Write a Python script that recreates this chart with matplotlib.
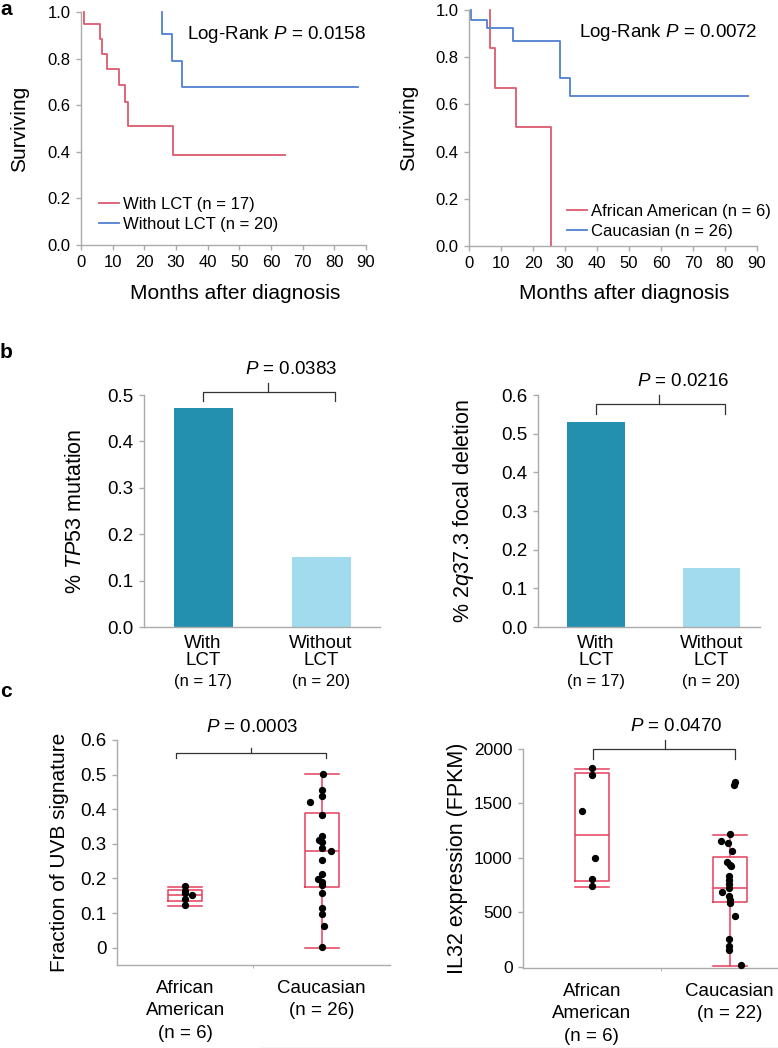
import numpy as np
import matplotlib.pyplot as plt
from matplotlib.lines import Line2D

plt.rcParams['font.family'] = ['Liberation Sans', 'DejaVu Sans']
plt.rcParams['mathtext.fontset'] = 'custom'
plt.rcParams['mathtext.it'] = 'Liberation Sans:italic'
plt.rcParams['mathtext.rm'] = 'Liberation Sans'

# ---- data ----
# a: Kaplan-Meier curves (event times in months, survival after each step)
lct_t = [1.0, 1.0, 6.0, 6.6, 8.3, 12.1, 13.8, 14.8, 29.1, 64.3]
lct_s = [1.0, 0.947, 0.883, 0.820, 0.757, 0.688, 0.612, 0.511, 0.385, 0.385]
nolct_t = [25.6, 25.6, 28.8, 31.9, 87.5]
nolct_s = [1.0, 0.904, 0.790, 0.678, 0.678]
aa_t = [6.6, 6.6, 8.2, 14.8, 25.5]
aa_s = [1.0, 0.837, 0.670, 0.504, 0.0]
cau_t = [0.7, 0.7, 5.6, 13.6, 28.5, 31.7, 87.3]
cau_s = [1.0, 0.959, 0.922, 0.870, 0.713, 0.634, 0.634]
km_xticks = [0, 10, 20, 30, 40, 50, 60, 70, 80, 90]
km_yticks = [0.0, 0.2, 0.4, 0.6, 0.8, 1.0]
km_yticklabels = ['0.0', '0.2', '0.4', '0.6', '0.8', '1.0']

# b: bar charts
bar_cats = ['With\nLCT', 'Without\nLCT']
bar_n = ['(n = 17)', '(n = 20)']
tp53 = [0.472, 0.151]
del2q = [0.530, 0.153]

# c: box plots
box_cats_uvb = ['African\nAmerican\n(n = 6)', 'Caucasian\n(n = 26)']
box_cats_il32 = ['African\nAmerican\n(n = 6)', 'Caucasian\n(n = 22)']
uvb_aa = [0.179, 0.165, 0.158, 0.153, 0.140, 0.124]
uvb_aa_jit = [0, 0, 0, 0.05, 0, 0]
uvb_cau = [0.501, 0.456, 0.437, 0.422, 0.382, 0.324, 0.310, 0.305, 0.288, 0.280,
           0.254, 0.214, 0.197, 0.189, 0.182, 0.158, 0.115, 0.096, 0.062, 0.003]
uvb_cau_jit = [0.01, 0, 0, -0.085, 0, 0, -0.02, 0, 0, 0.07,
               0, 0, -0.03, 0, 0, 0, 0, 0, 0.015, 0]
uvb_box = [dict(whislo=0.120, q1=0.134, med=0.151, q3=0.168, whishi=0.176, fliers=[]),
           dict(whislo=0.0, q1=0.176, med=0.280, q3=0.388, whishi=0.501, fliers=[])]
il32_aa = [1826, 1765, 1428, 1000, 807, 746]
il32_aa_jit = [0, 0, -0.07, 0.025, 0, 0]
il32_cau = [1694, 1672, 1223, 1159, 1138, 1061, 966, 939, 924, 832, 801,
            765, 725, 685, 648, 618, 587, 471, 257, 190, 159, 21]
il32_cau_jit = [0.036, 0.029, 0.005, -0.06, -0.01, 0.017, -0.02, 0.005, 0.01, -0.005, -0.005,
                -0.005, -0.005, -0.056, -0.005, 0, 0.005, 0.041, -0.005, -0.005, -0.005, 0.082]
il32_box = [dict(whislo=734, q1=786, med=1214, q3=1777, whishi=1820, fliers=[]),
            dict(whislo=10, q1=596, med=722, q3=1009, whishi=1214, fliers=[])]

RED = '#dc5a6e'
BLUE = '#4f80d0'
DARK = '#2390b0'
LIGHT = '#a3dbee'
BOXRED = '#e6405c'
GRAY = '#ababab'

W, H = 778, 1048
fig = plt.figure(figsize=(W / 100, H / 100), dpi=100)


def add_ax(l, t, r, b, ts=12):
    ax = fig.add_axes([l / W, 1 - b / H, (r - l) / W, (b - t) / H])
    ax.rect = (l, t, r, b)
    for s in ['top', 'right']:
        ax.spines[s].set_visible(False)
    for s in ['left', 'bottom']:
        ax.spines[s].set_color(GRAY)
        ax.spines[s].set_linewidth(1)
    ax.tick_params(color=GRAY, length=3.5, width=1, labelsize=ts, pad=4)
    return ax


def ylab(ax, text, x_px, size=15):
    l, t, r, b = ax.rect
    ax.set_ylabel(text, fontsize=size)
    ax.yaxis.set_label_coords((x_px - l) / (r - l), 0.5)


def bracket(ax, x0, x1, xm, y, ytip, ytop, label, tx, ty):
    kw = dict(color='#333333', lw=0.9, clip_on=False)
    ax.plot([x0, x0, x1, x1], [ytip, y, y, ytip], **kw)
    ax.plot([xm, xm], [y, ytop], **kw)
    ax.text(tx, ty, label, ha='center', va='center', fontsize=13.5)


# ---- a ----
for rect, curves, ptxt, leg_anchor in [
        ((81, 12, 366, 245), [(lct_t, lct_s, RED, 'With LCT (n = 17)'),
                              (nolct_t, nolct_s, BLUE, 'Without LCT (n = 20)')],
         '0.0158', (0.035, 0.02)),
        ((469, 10, 757, 246), [(aa_t, aa_s, RED, 'African American (n = 6)'),
                               (cau_t, cau_s, BLUE, 'Caucasian (n = 26)')],
         '0.0072', (0.31, -0.005))]:
    ax = add_ax(*rect)
    for t, s, c, lab in curves:
        ax.step(t, s, where='post', color=c, lw=1.3, label=lab, clip_on=False)
    ax.set_xlim(0, 90)
    ax.set_ylim(0, 1.0)
    ax.set_xticks(km_xticks)
    ax.set_yticks(km_yticks, km_yticklabels)
    ax.legend(loc='lower left', bbox_to_anchor=leg_anchor, frameon=False, fontsize=12,
              handlelength=1.2, handletextpad=0.25, labelspacing=0.3, borderpad=0)
    ax.text(1.0, 0.905, 'Log-Rank $\\it{P}$ = ' + ptxt, transform=ax.transAxes,
            ha='right', va='center', fontsize=13.5)
    ax.set_xlabel('Months after diagnosis', fontsize=15)
    l, t, r, b = rect
    ax.xaxis.set_label_coords(0.54, (b - 284) / (b - t))
    ylab(ax, 'Surviving', 29 if l < 200 else 418)

# ---- b ----
for rect, vals, ylim, yt, ylabtxt, ylx, br in [
        ((144, 395, 380, 627), tp53, 0.5, [0, 0.1, 0.2, 0.3, 0.4, 0.5],
         '% $\\it{TP53}$ mutation', 86,
         (0.506, 0.487, 0.526, 0.75, 0.556, '0.0383')),
        ((538, 395, 760, 627), del2q, 0.6, [0, 0.1, 0.2, 0.3, 0.4, 0.5, 0.6],
         '% $\\it{2q37.3}$ focal deletion', 476,
         (0.577, 0.551, 0.600, 0.76, 0.634, '0.0216'))]:
    ax = add_ax(*rect, ts=13.5)
    ax.bar([0, 1], vals, width=0.5, color=[DARK, LIGHT])
    ax.set_xlim(-0.5, 1.5 if rect[0] < 300 else 1.42)
    ax.set_ylim(0, ylim)
    ax.set_yticks(yt, ['%.1f' % v for v in yt])
    ax.set_xticks([0, 1], bar_cats, fontsize=13.5, linespacing=1.0)
    ax.tick_params(axis='x', length=0, pad=6)
    for i, n in enumerate(bar_n):
        ax.text(i, -0.237, n, transform=ax.get_xaxis_transform(), ha='center',
                va='center', fontsize=12)
    ylab(ax, ylabtxt, ylx, size=15.5)
    y, ytip, ytop, tx, ty, p = br
    bracket(ax, 0, 1.12, 0.55, y, ytip, ytop, '$\\it{P}$ = ' + p, tx, ty)

# ---- c ----
for rect, ts, box, pts, cats, ylim, yt, ytl, ylabtxt, ylx, br in [
        ((117, 740, 390, 965), 13.5, uvb_box,
         [(uvb_aa, uvb_aa_jit), (uvb_cau, uvb_cau_jit)], box_cats_uvb,
         (-0.05, 0.6), [0, 0.1, 0.2, 0.3, 0.4, 0.5, 0.6],
         ['0', '0.1', '0.2', '0.3', '0.4', '0.5', '0.6'],
         'Fraction of UVB signature', 69,
         (-0.07, 1.03, 0.48, 0.562, 0.548, 0.577, 0.49, 0.635, '0.0003')),
        ((523, 749, 778, 968), 12.5, il32_box,
         [(il32_aa, il32_aa_jit), (il32_cau, il32_cau_jit)], box_cats_il32,
         (-10, 2000), [0, 500, 1000, 1500, 2000],
         ['0', '500', '1000', '1500', '2000'],
         'IL32 expression (FPKM)', 468,
         (0.01, 1.04, 0.53, 2000, 1908, 2083, 0.61, 2202, '0.0470'))]:
    ax = add_ax(*rect, ts=ts)
    lp = dict(color=BOXRED, lw=1.1)
    ax.bxp(box, positions=[0, 1], widths=0.25, capwidths=[0.25, 0.25], showfliers=False,
           boxprops=lp, whiskerprops=lp, capprops=lp, medianprops=lp)
    for i, (v, j) in enumerate(pts):
        ax.scatter(np.array(j) + i, v, s=18, color='black', zorder=3, clip_on=False)
    ax.set_xlim(-0.5, 1.5 if rect[0] < 300 else 1.35)
    ax.set_ylim(*ylim)
    ax.set_yticks(yt, ytl)
    ax.set_xticks([0, 1], cats, fontsize=13.5, linespacing=1.4)
    ax.tick_params(axis='x', length=0, pad=11)
    ax.set_xticks([0.5], minor=True)
    ax.tick_params(axis='x', which='minor', length=2, color=GRAY)
    ylab(ax, ylabtxt, ylx, size=15 if rect[0] < 300 else 15.5)
    x0, x1, xm, y, ytip, ytop, tx, ty, p = br
    bracket(ax, x0, x1, xm, y, ytip, ytop, '$\\it{P}$ = ' + p, tx, ty)

# panel letters
for letter, ytop in [('a', 0), ('b', 343), ('c', 682)]:
    fig.text(0.0, 1 - ytop / H, letter, fontsize=15, fontweight='bold', va='top')

fig.add_artist(Line2D([260 / W, 1], [0.5 / H, 0.5 / H], color='#d8d8d8', lw=1))

fig.savefig('out.png', dpi=100)
